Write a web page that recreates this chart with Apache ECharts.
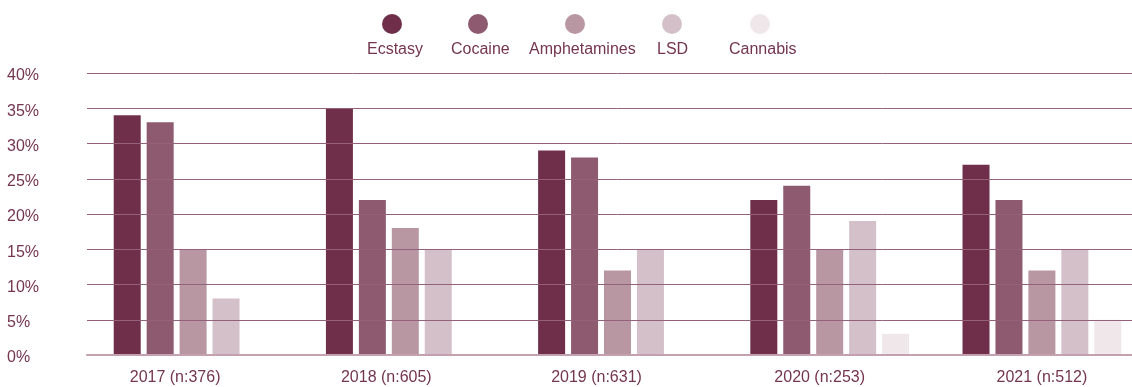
<!DOCTYPE html>
<html lang="en">
<head>
    <meta charset="UTF-8">
    <title>Drug use by year</title>
    <script type="text/javascript" src="https://cdn.jsdelivr.net/npm/echarts@6/dist/echarts.min.js"></script>
    <style>
        html, body { margin: 0; background: #fff; overflow: hidden; }
    </style>
</head>
<body>
<!-- a bit wider than the window: the last group runs near the right edge -->
<div id="main" style="width: 1148px;height:387px;"></div>
<script>
    // years + sample size
    var categories = ['2017 (n:376)', '2018 (n:605)', '2019 (n:631)', '2020 (n:253)', '2021 (n:512)'];
    var names = ['Ecstasy', 'Cocaine', 'Amphetamines', 'LSD', 'Cannabis'];
    // percentages, '-' = not asked that year
    var ecstasy = [34, 35, 29, 22, 27];
    var cocaine = [33, 22, 28, 24, 22];
    var amphetamines = [15, 18, 12, 15, 12];
    var lsd = [8, 15, 15, 19, 15];
    var cannabis = ['-', '-', '-', 3, 5];
    var yTicks = [0, 5, 10, 15, 20, 25, 30, 35, 40];

    var values = [ecstasy, cocaine, amphetamines, lsd, cannabis];
    var colors = ['#6f2f4a', '#8d5a6f', '#b897a3', '#d4c0c8', '#efe7ea'];
    var textColor = '#74354f';
    var font = 'Liberation Sans, Arial, Helvetica, sans-serif';

    // legend placement (icon above, text below)
    var iconLeft = [382, 468, 565, 662, 750];
    var textLeft = [367, 451, 529, 657, 729];
    // nudges for x labels
    var labelShift = [-18, -19, -21, -10, 0];

    var legends = [];
    names.forEach(function (n, i) {
        legends.push({
            data: [n], left: iconLeft[i], top: 14, padding: 0,
            icon: 'circle', itemWidth: 20, itemHeight: 20,
            formatter: function () { return ''; }
        });
        legends.push({
            data: [n], left: textLeft[i] - 5, top: 42, padding: 0,
            itemWidth: 0, itemHeight: 0,
            textStyle: { color: textColor, fontSize: 16, fontFamily: font }
        });
    });

    var rich = {};
    labelShift.forEach(function (s, i) {
        rich['s' + i] = {
            color: textColor, fontSize: 16, fontFamily: font,
            padding: s < 0 ? [0, -2 * s, 0, 0] : [0, 0, 0, 2 * s]
        };
    });

    var option = {
        animation: false,
        color: colors,
        legend: legends,
        grid: { left: 87, right: 0, top: 73, bottom: 32 },
        xAxis: {
            type: 'category',
            data: categories,
            z: 5,
            axisTick: { show: false },
            axisLine: { lineStyle: { color: '#c4a1af', width: 2 } },
            axisLabel: {
                margin: 15,
                formatter: function (v, i) { return '{s' + i + '|' + v + '}'; },
                rich: rich
            }
        },
        yAxis: {
            type: 'value',
            min: yTicks[0],
            max: yTicks[yTicks.length - 1],
            interval: 5,
            z: 5,
            axisLine: { show: false },
            axisTick: { show: false },
            axisLabel: {
                align: 'left', margin: 80,
                formatter: '{p|{value}%}',
                rich: {
                    p: { color: textColor, fontSize: 16, fontFamily: font, padding: [6, 0, 0, 0] }
                }
            },
            splitLine: { lineStyle: { color: '#93627a', width: 1 } }
        },
        series: names.map(function (n, i) {
            return {
                name: n,
                type: 'bar',
                data: values[i],
                barWidth: 27,
                barGap: '22%',
                itemStyle: { color: colors[i] }
            };
        })
    };

    var myChart = echarts.init(document.getElementById('main'));
    myChart.setOption(option);
</script>
</body>
</html>
